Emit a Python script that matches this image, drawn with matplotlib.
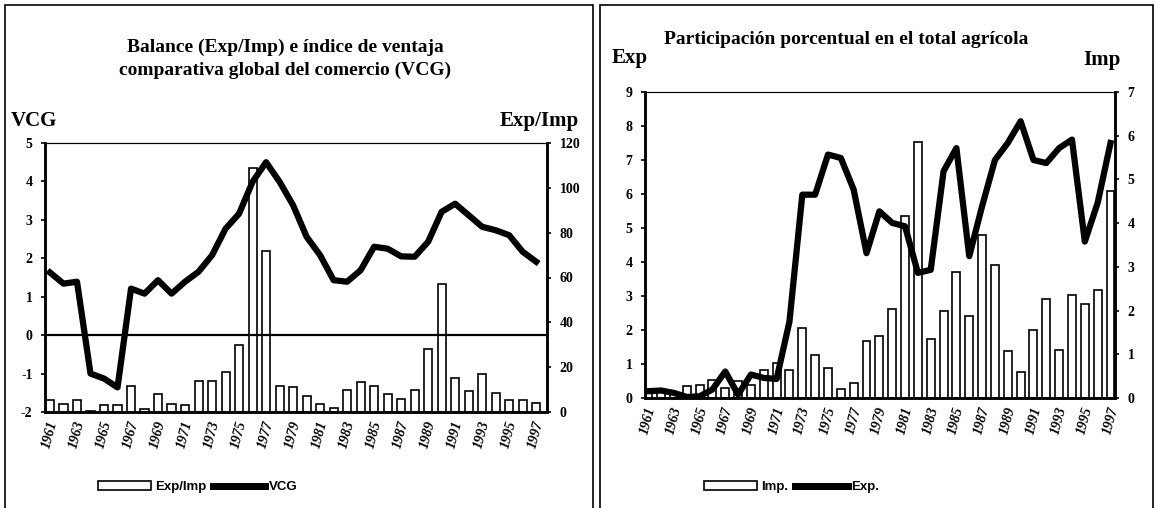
import matplotlib
matplotlib.use('Agg')
import matplotlib.pyplot as plt
import numpy as np
from matplotlib.patches import Rectangle
from matplotlib.lines import Line2D

# data
years = list(range(1961, 1998))
vcg = [1.63, 1.34, 1.39, -1.0, -1.13, -1.36, 1.21, 1.08, 1.43, 1.08, 1.39, 1.65,
       2.08, 2.77, 3.16, 3.99, 4.5, 3.99, 3.38, 2.56, 2.08, 1.43, 1.39, 1.69,
       2.30, 2.25, 2.05, 2.04, 2.43, 3.21, 3.42, 3.12, 2.82, 2.73, 2.6, 2.17, 1.91]
exp_imp = [5.2, 3.4, 5.2, 0.3, 3.0, 3.0, 11.4, 1.5, 8.2, 3.7, 3.0, 13.8,
           13.8, 17.8, 29.7, 109, 71.8, 11.4, 11.2, 7.0, 3.7, 1.9, 10, 13.4,
           11.4, 7.9, 5.9, 9.7, 28.3, 57, 15.2, 9.4, 17.1, 8.5, 5.2, 5.2, 4.2]
exp_share = [0.2, 0.22, 0.15, 0.03, 0.05, 0.25, 0.78, 0.1, 0.69, 0.59, 0.56, 2.25,
             5.98, 5.98, 7.16, 7.06, 6.13, 4.26, 5.49, 5.15, 5.05, 3.68, 3.77, 6.67,
             7.35, 4.17, 5.64, 7.0, 7.5, 8.14, 7.0, 6.91, 7.35, 7.6, 4.6, 5.74, 7.5]
imp_share = [0.15, 0.15, 0.1, 0.27, 0.3, 0.42, 0.23, 0.38, 0.3, 0.65, 0.8, 0.63,
             1.6, 0.99, 0.69, 0.21, 0.34, 1.3, 1.41, 2.04, 4.16, 5.85, 1.35, 1.98,
             2.88, 1.87, 3.74, 3.05, 1.07, 0.6, 1.55, 2.27, 1.1, 2.36, 2.14, 2.46, 4.73]

SERIF = 'Liberation Serif'
NARROW = ['Liberation Sans Narrow', 'Liberation Sans']
plt.rcParams['axes.unicode_minus'] = False

W, H = 1155, 508
fig = plt.figure(figsize=(W / 100, H / 100), dpi=100)


def box(x0, y0, x1, y1):
    return [x0 / W, 1 - y1 / H, (x1 - x0) / W, (y1 - y0) / H]


def style(ax, ax2, xlim):
    for a in (ax, ax2):
        for s in ('left', 'bottom', 'right'):
            a.spines[s].set_linewidth(1.8)
        a.spines['top'].set_linewidth(0.8)
        a.tick_params(axis='y', direction='out', length=3, width=1.2, labelsize=10, pad=6)
        for lab in a.get_yticklabels():
            lab.set_fontfamily(SERIF)
            lab.set_fontweight('bold')
    x = np.arange(len(years))
    ax.set_xlim(*xlim)
    ax.set_xticks(x[::2])
    ax.set_xticklabels([str(y) for y in years[::2]], rotation=75, fontsize=10,
                       family=SERIF, style='italic', weight='bold')
    ax.tick_params(axis='x', length=0, pad=5)


x = np.arange(len(years))

# left chart
ax_l = fig.add_axes(box(45, 143, 547, 412))
ax_l2 = ax_l.twinx()
ax_l2.bar(x, exp_imp, width=0.6, color='white', edgecolor='black', lw=1.2)
ax_l.plot(x, vcg, color='black', lw=4.5, solid_joinstyle='round')
ax_l.axhline(0, color='black', lw=1.6)
ax_l.set_zorder(ax_l2.get_zorder() + 1)
ax_l.patch.set_visible(False)
ax_l.set_ylim(-2, 5)
ax_l.set_yticks(range(-2, 6))
ax_l2.set_ylim(0, 120)
ax_l2.set_yticks(range(0, 121, 20))
style(ax_l, ax_l2, (-0.37, 36.8))

# right chart
ax_r = fig.add_axes(box(645, 92, 1115, 398))
ax_r2 = ax_r.twinx()
ax_r2.bar(x, imp_share, width=0.62, color='white', edgecolor='black', lw=1.2)
ax_r.plot(x, exp_share, color='black', lw=4.5, solid_joinstyle='round')
ax_r.set_zorder(ax_r2.get_zorder() + 1)
ax_r.patch.set_visible(False)
ax_r.set_ylim(0, 9)
ax_r.set_yticks(range(0, 10))
ax_r2.set_ylim(0, 7)
ax_r2.set_yticks(range(0, 8))
style(ax_r, ax_r2, (-0.25, 36.35))

# titles and axis names
bold = dict(family=SERIF, weight='bold', ha='center', va='center')
fig.text(285 / W, 1 - 59 / H,
         'Balance (Exp/Imp) e índice de ventaja\ncomparativa global del comercio (VCG)',
         fontsize=14, linespacing=1.45, **bold)
fig.text(34 / W, 1 - 121 / H, 'VCG', fontsize=15, **bold)
fig.text(539 / W, 1 - 121 / H, 'Exp/Imp', fontsize=15, **bold)
fig.text(846 / W, 1 - 40 / H, 'Participación porcentual en el total agrícola',
         fontsize=14, **bold)
fig.text(630 / W, 1 - 58 / H, 'Exp', fontsize=15, **bold)
fig.text(1102 / W, 1 - 60 / H, 'Imp', fontsize=15, **bold)

# legends
leg_kw = dict(loc='center', ncol=2, frameon=False, handlelength=4, handleheight=0.7,
              handletextpad=0.3, columnspacing=0.5,
              prop=dict(family=NARROW, weight='bold', size=9.5))
bar_h = Rectangle((0, 0), 1, 1, fc='white', ec='black', lw=1.2)
line_h = Line2D([], [], color='black', lw=5)
fig.legend([bar_h, line_h], ['Exp/Imp', 'VCG'], bbox_to_anchor=(198 / W, 1 - 487 / H), **leg_kw)
fig.legend([bar_h, line_h], ['Imp.', 'Exp.'], bbox_to_anchor=(792 / W, 1 - 487 / H), **leg_kw)

# panel frames
fig.patches.append(Rectangle((5 / W, -0.1), 588 / W, 1.1 - 5 / H, transform=fig.transFigure,
                             fill=False, ec='black', lw=1.2))
fig.patches.append(Rectangle((600 / W, -0.1), 553 / W, 1.1 - 5 / H, transform=fig.transFigure,
                             fill=False, ec='black', lw=1.2))

fig.savefig('out.png', dpi=100)
